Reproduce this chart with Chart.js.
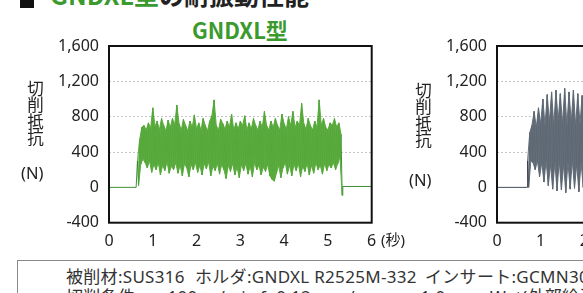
<!DOCTYPE html>
<html lang="ja">
<head>
<meta charset="utf-8">
<script src="https://cdn.jsdelivr.net/npm/chart.js@4.4.1/dist/chart.umd.min.js"></script>
<style>
  html, body { margin: 0; padding: 0; background: #fff; }
  body { width: 583px; height: 293px; overflow: hidden; position: relative;
         font-family: "Noto Sans", "Noto Sans CJK JP", sans-serif; color: #222; }
  .abs { position: absolute; white-space: nowrap; }
  #leftWrap { position: absolute; left: 0; top: 0; width: 400px; height: 260px; }
  #rightWrap { position: absolute; left: 400px; top: 0; width: 400px; height: 260px; }
  .ytitle { position: absolute; writing-mode: vertical-rl; font-family: "Noto Sans CJK JP", sans-serif;
            font-size: 16.5px; line-height: 1; color: #222; }
  .unitN { position: absolute; font-size: 16.5px; line-height: 1; color: #222; }
  .cond { position: absolute; white-space: nowrap; font-size: 17px; line-height: 20px;
          letter-spacing: 0.3px; color: #333; }
</style>
</head>
<body>
<div class="abs" style="left:20px;top:-6px;width:14px;height:14px;background:#111;"></div>
<div class="abs" style="left:50px;top:-18px;font-family:'Noto Sans CJK JP',sans-serif;font-size:25px;line-height:1;font-weight:600;">
  <span style="color:#3a9a2e;">GNDXL型</span><span style="color:#222;">の耐振動性能</span>
</div>
<div class="abs" style="left:192px;top:18px;font-family:'Noto Sans CJK JP',sans-serif;font-size:22px;line-height:22px;font-weight:700;color:#3a9a2e;">GNDXL型</div>

<div id="leftWrap"><canvas id="leftChart" width="400" height="260"></canvas></div>
<div id="rightWrap"><canvas id="rightChart" width="400" height="260"></canvas></div>

<div class="ytitle" style="left:27px;top:80px;">切削抵抗</div>
<div class="unitN" style="left:21px;top:165px;">(N)</div>
<div class="ytitle" style="left:415px;top:82px;">切削抵抗</div>
<div class="unitN" style="left:409px;top:172px;">(N)</div>
<div class="abs" style="left:381px;top:230px;font-size:15px;line-height:18px;">(秒)</div>

<div class="abs" style="left:17px;top:260px;width:700px;height:80px;border:1px solid #8a8a8a;"></div>
<div class="cond" style="left:66px;top:267px;">被削材:SUS316</div>
<div class="cond" style="left:195px;top:267px;">ホルダ:GNDXL R2525M-332</div>
<div class="cond" style="left:425px;top:267px;">インサート:GCMN3003-MJ</div>
<div class="cond" style="left:66px;top:287px;">切削条件:vc=100 m/min</div>
<div class="cond" style="left:260px;top:287px;">f=0.12 mm/rev</div>
<div class="cond" style="left:390px;top:287px;">ap=1.0 mm</div>
<div class="cond" style="left:490px;top:287px;">Wet(外部給油)</div>

<script>
// axis ticks
const xTicks = [0, 1, 2, 3, 4, 5, 6];
const yTicks = [-400, 0, 400, 800, 1200, 1600];
const gridValues = [400, 800, 1200];

// GNDXL signal: upper / lower swing every 0.05 s from 0.65 s
const gndxlStart = 0.65;
const gndxlStep = 0.05;
const gndxlHigh = [
  300, 540, 680, 700, 650, 730, 670, 900, 690, 750,
  650, 780, 700, 640, 760, 680, 780, 710, 930, 720,
  650, 770, 700, 640, 750, 680, 820, 660, 730, 650,
  780, 700, 640, 750, 810, 990, 700, 650, 770, 720,
  660, 750, 680, 830, 650, 730, 660, 750, 700, 810,
  650, 730, 660, 780, 700, 650, 750, 680, 860, 700,
  650, 750, 680, 780, 700, 650, 830, 720, 660, 800,
  700, 860, 680, 750, 700, 950, 720, 660, 780, 700,
  650, 750, 680, 990, 700, 780, 680, 650, 730, 700,
  780, 680, 730, 600
];
const gndxlLow = [
  20, 260, 320, 280, 220, 300, 170, 260, 200, 280,
  140, 250, 190, 290, 160, 240, 200, 280, 160, 250,
  130, 270, 220, 120, 260, 200, 280, 170, 250, 140,
  270, 210, 290, 130, 240, 190, 270, 150, 260, 200,
  100, 250, 180, 270, 140, 230, 110, 260, 190, 270,
  150, 240, 120, 280, 200, 250, 140, 230, 180, 260,
  130, 90, 70, 160, 250, 110, 220, 280, 150, 250,
  130, 260, 190, 270, 120, 240, 180, 270, 140, 250,
  160, 280, 200, 250, 150, 270, 190, 260, 220, 280,
  200, 270, 340, -90
];
const gndxlBefore = [[0, 0], [0.62, 0]];
const gndxlAfter = [[5.34, 10], [6, 10]];

// comparison signal (right, cut off)
const otherStart = 0.70;
const otherStep = 0.05;
const otherHigh = [
  300, 620, 700, 860, 680, 900, 720, 1000, 700, 1050,
  740, 1080, 700, 1100, 760, 1060, 720, 1120, 700, 1080,
  740, 1100, 700, 1060, 720, 1040, 700, 1060
];
const otherLow = [
  0, 300, 280, 200, 300, 120, 280, 60, 300, 20,
  260, -20, 280, -40, 300, -30, 260, -60, 280, -20,
  300, -10, 260, -50, 280, 0, 300, -20
];
const otherBefore = [[0, 0], [0.69, 0]];

function envelope(start, step, vals, shift) {
  return vals.map((v, i) => ({ x: start + i * step + shift, y: v }));
}

function zigzag(start, step, high, low, before, after) {
  const pts = before.map(([x, y]) => ({ x, y }));
  high.forEach((h, i) => {
    const t = start + i * step;
    pts.push({ x: t, y: h });
    pts.push({ x: t + step / 2, y: low[i] });
  });
  after.forEach(([x, y]) => pts.push({ x, y }));
  return pts;
}

const frame = {
  id: "frame",
  afterDraw(chart) {
    const { ctx, chartArea: a } = chart;
    ctx.save();
    ctx.setLineDash([]);
    ctx.strokeStyle = "#111";
    ctx.lineWidth = 2;
    ctx.strokeRect(a.left, a.top, a.right - a.left, a.bottom - a.top);
    ctx.restore();
  },
};

const tickFont = { family: '"Noto Sans", sans-serif', size: 16 };

function makeChart(id, sig, fillColor, lineColor, yWidth, rightPad) {
  const { start, step, high, low, before, after } = sig;
  return new Chart(document.getElementById(id), {
    type: "line",
    data: {
      datasets: [
        {
          data: envelope(start, step, high, 0),
          borderColor: fillColor,
          backgroundColor: fillColor,
          borderWidth: 1,
          pointRadius: 0,
          tension: 0,
          fill: "+1",
        },
        {
          data: envelope(start, step, low, step / 2),
          borderColor: fillColor,
          borderWidth: 1,
          pointRadius: 0,
          tension: 0,
          fill: false,
        },
        {
          data: zigzag(start, step, high, low, before, after),
          borderColor: lineColor,
          borderWidth: 1,
          pointRadius: 0,
          tension: 0,
          fill: false,
        },
      ],
    },
    options: {
      responsive: false,
      animation: false,
      layout: { padding: { top: 46, right: rightPad, left: 0, bottom: 0 } },
      plugins: { legend: { display: false }, tooltip: { enabled: false } },
      scales: {
        x: {
          type: "linear",
          min: 0,
          max: 6,
          afterBuildTicks: (s) => { s.ticks = xTicks.map((v) => ({ value: v })); },
          afterFit: (s) => { s.height = 37.3; },
          grid: { display: false },
          border: { display: false },
          ticks: { font: tickFont, color: "#222", padding: 1, maxRotation: 0 },
        },
        y: {
          min: -400,
          max: 1600,
          afterBuildTicks: (s) => { s.ticks = yTicks.map((v) => ({ value: v })); },
          afterFit: (s) => { s.width = yWidth; },
          grid: {
            drawTicks: false,
            color: (c) => gridValues.includes(c.tick && c.tick.value) ? "#c4c4c4" : "rgba(0,0,0,0)",
          },
          border: { display: false, dash: [2, 2] },
          ticks: {
            font: tickFont,
            color: "#222",
            padding: 10,
            callback: (v) => v.toLocaleString("en-US"),
          },
        },
      },
    },
    plugins: [frame],
  });
}

makeChart("leftChart",
  { start: gndxlStart, step: gndxlStep, high: gndxlHigh, low: gndxlLow, before: gndxlBefore, after: gndxlAfter },
  "rgba(86, 170, 58, 0.95)", "rgba(42, 132, 30, 0.9)", 109, 28.3);

makeChart("rightChart",
  { start: otherStart, step: otherStep, high: otherHigh, low: otherLow, before: otherBefore, after: [] },
  "rgba(96, 106, 118, 0.95)", "rgba(48, 58, 70, 0.9)", 97, 41);
</script>
</body>
</html>
